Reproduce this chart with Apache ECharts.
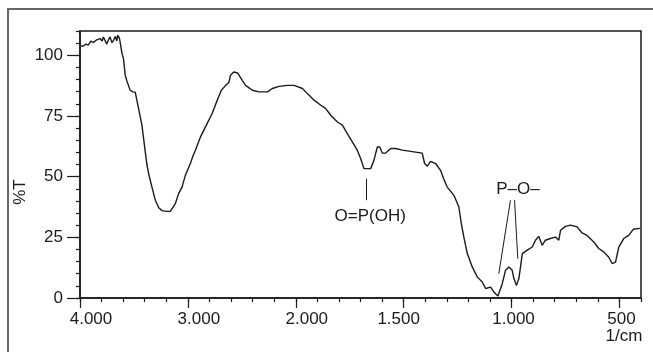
<!DOCTYPE html>
<html lang="en">
<head>
<meta charset="UTF-8">
<title>IR spectrum</title>
<style>
    *{
        padding:0;
        margin:0;
    }
    body{background:#fff;}
</style>
<script src="https://cdn.jsdelivr.net/npm/echarts@6/dist/echarts.min.js"></script>
</head>
<body>
<div id="main" style="width:653px;height:352px;"></div>
<script>
// wavenumber (1/cm) and transmittance (%T)
var waveNumbers = [3990, 3969, 3945, 3923, 3900, 3876, 3850, 3814, 3795, 3783, 3765, 3752, 3736, 3721, 3705, 3690,
    3672, 3659, 3650, 3644, 3636, 3628, 3612, 3597, 3581, 3566, 3551, 3535, 3510, 3488, 3472, 3457, 3426, 3395,
    3380, 3364, 3333, 3302, 3270, 3240, 3225, 3200, 3163, 3116, 3086, 3054, 3023, 2977, 2953, 2930, 2884, 2837,
    2775, 2728, 2690, 2651, 2620, 2605, 2574, 2540, 2496, 2465, 2403, 2341, 2263, 2217, 2155, 2077, 2016, 1969,
    1946, 1915, 1884, 1861, 1838, 1807, 1784, 1761, 1738, 1715, 1699, 1684, 1653, 1638, 1622, 1611, 1599, 1583,
    1560, 1537, 1506, 1452, 1414, 1403, 1390, 1375, 1352, 1329, 1315, 1298, 1267, 1244, 1233, 1221, 1205, 1182,
    1159, 1136, 1120, 1097, 1082, 1063, 1043, 1028, 1012, 997, 989, 977, 966, 950, 927, 904, 889, 874, 858, 843,
    820, 796, 781, 773, 750, 727, 696, 673, 650, 619, 596, 573, 550, 534, 518, 503, 480, 457, 436, 405];
var transmittance = [103.8, 103.8, 104.6, 104.2, 105.8, 105.3, 106.2, 106.9, 105.9, 107.5, 106.8, 104.6, 106.4, 107.6, 105.2, 106.1,
    107.8, 105.9, 108.3, 109, 107.2, 105.5, 101, 98.6, 91.8, 89.5, 87.6, 85.6, 84.9, 84.8, 84.2, 78, 71.2, 60.2,
    55, 51.3, 45.7, 40.3, 37.2, 36, 35.7, 35.7, 35.7, 38.9, 43, 45.7, 50.6, 55.4, 58.5, 60.9, 66.3, 70.5,
    76, 81.5, 85.6, 87.5, 88.8, 91.8, 93.1, 92.7, 89.7, 87.6, 85.6, 84.9, 84.9, 86.3, 87.2, 87.6, 87.6, 86.3,
    84.2, 81.5, 79.4, 78, 75.3, 72.5, 71.2, 67.7, 64.3, 60.9, 57.4, 53.3, 53.3, 56.7, 62.2, 62.2, 59.7, 59.7,
    61.6, 61.6, 60.9, 60.2, 59.7, 55.4, 54.3, 56.3, 55.4, 52.6, 49.2, 45.7, 42.3, 37.5, 30.7, 25.1, 18.3, 12.8,
    8.7, 6.6, 3.9, 4.5, 2.5, 0.8, 5.9, 11.4, 12.8, 11.4, 8, 5.2, 8, 18.3, 19.7, 21, 23.8, 25.4, 21.7, 23.8,
    24.5, 25.1, 23.8, 27.9, 29.5, 30, 29.3, 26.8, 25.8, 23.1, 20.4, 19, 16.9, 14.2, 14.8, 21, 24.5, 25.8, 28.3, 28.7];

var xTicks = [4000, 3000, 2000, 1500, 1000, 500];
var yTicks = [0, 25, 50, 75, 100];

// annotations: text at [wavenumber, %T], leader lines [w1, t1, w2, t2]
var noteTexts = ['O=P(OH)', 'P–O–'];
var notePos = [[1655, 33.7], [970, 44.8]];
var noteLines = [[1673, 49.2, 1673, 40.3], [1005, 40.3, 1059, 10], [986, 40.3, 971, 16.2]];

// the spectrometer doubles the scale below 2000 1/cm
function toAxis(w) {
    return w >= 2000 ? 4000 - w : 2000 + 2 * (2000 - w);
}
function fromAxis(u) {
    return u <= 2000 ? 4000 - u : 2000 - (u - 2000) / 2;
}
function fmtWave(w) {
    w = Math.round(w);
    if (w < 1000) return '' + w;
    var r = '' + (w % 1000);
    while (r.length < 3) r = '0' + r;
    return Math.floor(w / 1000) + '.' + r;
}
// labels in the original sit a little off their ticks
function labelStyle(w) {
    if (w >= 2000) return 'a';
    if (w === 1500) return 'b';
    return 'c';
}

var font = 'Liberation Sans, Arial, sans-serif';
var ink = '#1a1a1a';
var fs = 17;

var chart = echarts.init(document.getElementById('main'));

var lineData = waveNumbers.map(function (w, i) { return [toAxis(w), transmittance[i]]; });
var noteData = noteTexts.map(function (t, i) { return { value: [toAxis(notePos[i][0]), notePos[i][1]], name: t }; });
var leaderData = noteLines.map(function (l) {
    return [{ coord: [toAxis(l[0]), l[1]] }, { coord: [toAxis(l[2]), l[3]] }];
});

var option = {
    animation: false,
    backgroundColor: '#fff',
    grid: {
        left: 80, right: 12, top: 31, bottom: 54,
        show: true, borderColor: ink, borderWidth: 1.5,
        outerBoundsMode: 'none'
    },
    xAxis: [{
        type: 'value', min: 0, max: 5200, interval: 1000,
        axisLine: { show: true, lineStyle: { color: ink, width: 1.5 } },
        axisTick: { show: true, length: 10, lineStyle: { color: ink, width: 1.2 },
            customValues: xTicks.map(toAxis) },
        axisLabel: {
            customValues: xTicks.map(toAxis),
            color: ink, fontFamily: font, fontSize: fs, margin: 13,
            formatter: function (u) {
                var w = Math.round(fromAxis(u));
                return '{' + labelStyle(w) + '|' + fmtWave(w) + '}';
            },
            rich: {
                a: { padding: [0, 0, 0, 22], color: ink, fontFamily: font, fontSize: fs },
                b: { padding: [0, 10, 0, 0], color: ink, fontFamily: font, fontSize: fs },
                c: { padding: [0, 0, 0, 4], color: ink, fontFamily: font, fontSize: fs }
            }
        },
        splitLine: { show: false }
    }, {
        // minor ticks, 200 (above 2000) / 100 (below 2000) 1/cm
        type: 'value', min: 0, max: 5200, interval: 200, position: 'bottom',
        axisLine: { show: false },
        axisTick: { show: true, length: 4, lineStyle: { color: ink, width: 1.2 } },
        axisLabel: { show: false },
        splitLine: { show: false }
    }],
    yAxis: [{
        type: 'value', min: 0, max: 110, interval: 25,
        axisLine: { show: true, lineStyle: { color: ink, width: 1.5 } },
        axisTick: { show: true, length: 13, lineStyle: { color: ink, width: 1.2 }, customValues: yTicks },
        axisLabel: { customValues: yTicks, color: ink, fontFamily: font, fontSize: fs, margin: 17 },
        splitLine: { show: false }
    }, {
        type: 'value', min: 0, max: 110, interval: 5, position: 'left',
        axisLine: { show: false },
        axisTick: { show: true, length: 4, lineStyle: { color: ink, width: 1.2 } },
        axisLabel: { show: false },
        splitLine: { show: false }
    }],
    graphic: [{
        type: 'rect', silent: true,
        shape: { x: 8, y: 9, width: 700, height: 400 },
        style: { fill: null, stroke: '#666', lineWidth: 2 }
    }, {
        type: 'text', x: 20, y: 192, rotation: Math.PI / 2,
        style: { text: '%T', fill: ink, font: fs + 'px ' + font, align: 'center', verticalAlign: 'middle' }
    }, {
        type: 'text', x: 624, y: 336,
        style: { text: '1/cm', fill: ink, font: fs + 'px ' + font, align: 'center', verticalAlign: 'middle' }
    }],
    series: [{
        name: '%T',
        type: 'line',
        data: lineData,
        showSymbol: false,
        symbol: 'none',
        lineStyle: { color: ink, width: 1.4 },
        markLine: {
            silent: true, symbol: ['none', 'none'],
            label: { show: false },
            lineStyle: { color: ink, width: 1, type: 'solid', opacity: 1 },
            data: leaderData
        }
    }, {
        name: 'notes',
        type: 'scatter',
        data: noteData,
        symbolSize: 0,
        silent: true,
        itemStyle: { opacity: 1 },
        label: {
            show: true, position: 'inside', color: ink, opacity: 1,
            fontFamily: font, fontSize: fs, textBorderWidth: 0,
            formatter: function (p) { return p.name; }
        }
    }]
};

chart.setOption(option);
</script>
</body>
</html>
